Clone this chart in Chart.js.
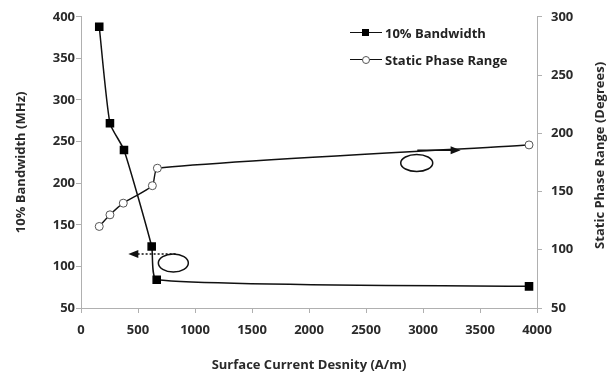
<!DOCTYPE html>
<html><head><meta charset="utf-8">
<script src="https://cdn.jsdelivr.net/npm/chart.js@4.4.1/dist/chart.umd.min.js"></script>
<style>
html,body{margin:0;padding:0;background:#fff;}
#wrap{position:relative;width:607px;height:373px;}
#legend{position:absolute;left:350px;top:19px;font-family:"Open Sans",sans-serif;font-weight:700;font-size:13px;color:#222;}
.li{display:flex;align-items:center;height:27px;}
.sw{position:relative;width:32px;height:10px;margin-right:3px;}
.sw .ln{position:absolute;left:0;right:0;top:4.5px;height:1.4px;background:#111;}
.sw .sq{position:absolute;left:12px;top:1.5px;width:7px;height:7px;background:#000;}
.sw .ci{position:absolute;left:12px;top:1px;width:6px;height:6px;border:1px solid #555;border-radius:50%;background:#fff;}
</style></head>
<body><div id="wrap"><canvas id="c" width="607" height="373"></canvas>
<div id="legend">
<div class="li"><div class="sw"><div class="ln"></div><div class="sq"></div></div><span>10% Bandwidth</span></div>
<div class="li"><div class="sw"><div class="ln"></div><div class="ci"></div></div><span>Static Phase Range</span></div>
</div></div>
<script>
const xTicks = [0,500,1000,1500,2000,2500,3000,3500,4000];
const leftTicks = [50,100,150,200,250,300,350,400];
const rightTicks = [50,100,150,200,250,300];
const bwX = [160, 254, 377, 620, 664, 3930];
const bwY = [388, 272, 240, 124, 84, 76];
const phX = [160, 254, 371, 626, 670, 3930];
const phY = [120, 130, 140, 155, 170, 190];
const rightTitle = 'Static Phase Range (Degrees)';
// annotation shapes (data coordinates)
const ellipses = [{x:810, y:104, axis:'y', rx:15, ry:9},{x:2945, y:174.5, axis:'y1', rx:16, ry:8.5}];
const arrows = [{x1:830, x2:415, y:115, axis:'y', dash:true},{x1:2950, x2:3330, y:185.5, axis:'y1', dash:false}];

const font = {family:'"Open Sans", sans-serif', weight:'bold', size:13};
const txtColor = '#2a2a2a';
const axisColor = '#b0b0b0';

const annot = {
  id:'annot',
  afterDatasetsDraw(chart){
    const ctx = chart.ctx, xs = chart.scales.x;
    ctx.save();
    ctx.strokeStyle='#111'; ctx.fillStyle='#111'; ctx.lineWidth=1.5;
    ellipses.forEach(e=>{
      const ys = chart.scales[e.axis];
      ctx.beginPath();
      ctx.ellipse(xs.getPixelForValue(e.x), ys.getPixelForValue(e.y), e.rx, e.ry, 0, 0, Math.PI*2);
      ctx.stroke();
    });
    arrows.forEach(a=>{
      const ys = chart.scales[a.axis];
      const px1 = xs.getPixelForValue(a.x1), px2 = xs.getPixelForValue(a.x2);
      const py = ys.getPixelForValue(a.y);
      const dir = Math.sign(px2-px1);
      ctx.setLineDash(a.dash?[2,2]:[]);
      ctx.beginPath(); ctx.moveTo(px1,py); ctx.lineTo(px2-dir*8,py); ctx.stroke();
      ctx.setLineDash([]);
      ctx.beginPath(); ctx.moveTo(px2,py); ctx.lineTo(px2-dir*10,py-4); ctx.lineTo(px2-dir*10,py+4); ctx.closePath(); ctx.fill();
    });
    // right axis title, reading bottom to top
    ctx.font = 'bold 13px "Open Sans", sans-serif';
    ctx.fillStyle = txtColor; ctx.textAlign='center'; ctx.textBaseline='middle';
    ctx.translate(600, (chart.chartArea.top+chart.chartArea.bottom)/2 - 7);
    ctx.rotate(-Math.PI/2);
    ctx.fillText(rightTitle, 0, 0);
    ctx.restore();
  }
};

const plain = v => String(v);

new Chart(document.getElementById('c'), {
  type:'line',
  data:{datasets:[
    {label:'10% Bandwidth', data:bwX.map((x,i)=>({x, y:bwY[i]})), yAxisID:'y',
     borderColor:'#111', borderWidth:1.5, pointStyle:'rect', pointRadius:5, pointBackgroundColor:'#000', pointBorderColor:'#000', tension:0.18},
    {label:'Static Phase Range', data:phX.map((x,i)=>({x, y:phY[i]})), yAxisID:'y1',
     borderColor:'#111', borderWidth:1.4, pointStyle:'circle', pointRadius:4, pointBackgroundColor:'#fff', pointBorderColor:'#555', pointBorderWidth:1, tension:0.18}
  ]},
  options:{
    responsive:false, animation:false,
    layout:{padding:{top:15,left:0,right:0,bottom:0}},
    plugins:{legend:{display:false}, tooltip:{enabled:false}},
    scales:{
      x:{type:'linear', min:0, max:4000, afterBuildTicks:s=>{s.ticks=xTicks.map(v=>({value:v}));},
         grid:{drawOnChartArea:false, color:axisColor, tickLength:5}, border:{color:axisColor},
         ticks:{font, color:txtColor, padding:9, maxRotation:0, callback:plain},
         title:{display:true, text:'Surface Current Desnity (A/m)', font, color:txtColor, padding:{top:2, bottom:0}},
         afterFit:s=>{s.height=65;}},
      y:{position:'left', min:50, max:400, afterBuildTicks:s=>{s.ticks=leftTicks.map(v=>({value:v}));},
         grid:{drawOnChartArea:false, color:axisColor, tickLength:5}, border:{color:axisColor},
         ticks:{font, color:txtColor, padding:1, callback:plain},
         title:{display:true, text:'10% Bandwidth (MHz)', font, color:txtColor, padding:{top:13, bottom:0}},
         afterFit:s=>{s.width=81;}},
      y1:{position:'right', min:50, max:300, afterBuildTicks:s=>{s.ticks=rightTicks.map(v=>({value:v}));},
         grid:{drawOnChartArea:false, color:axisColor, tickLength:5}, border:{color:axisColor},
         ticks:{font, color:txtColor, padding:9, callback:plain},
         afterFit:s=>{s.width=70;}}
    }
  },
  plugins:[annot]
});
</script></body></html>
